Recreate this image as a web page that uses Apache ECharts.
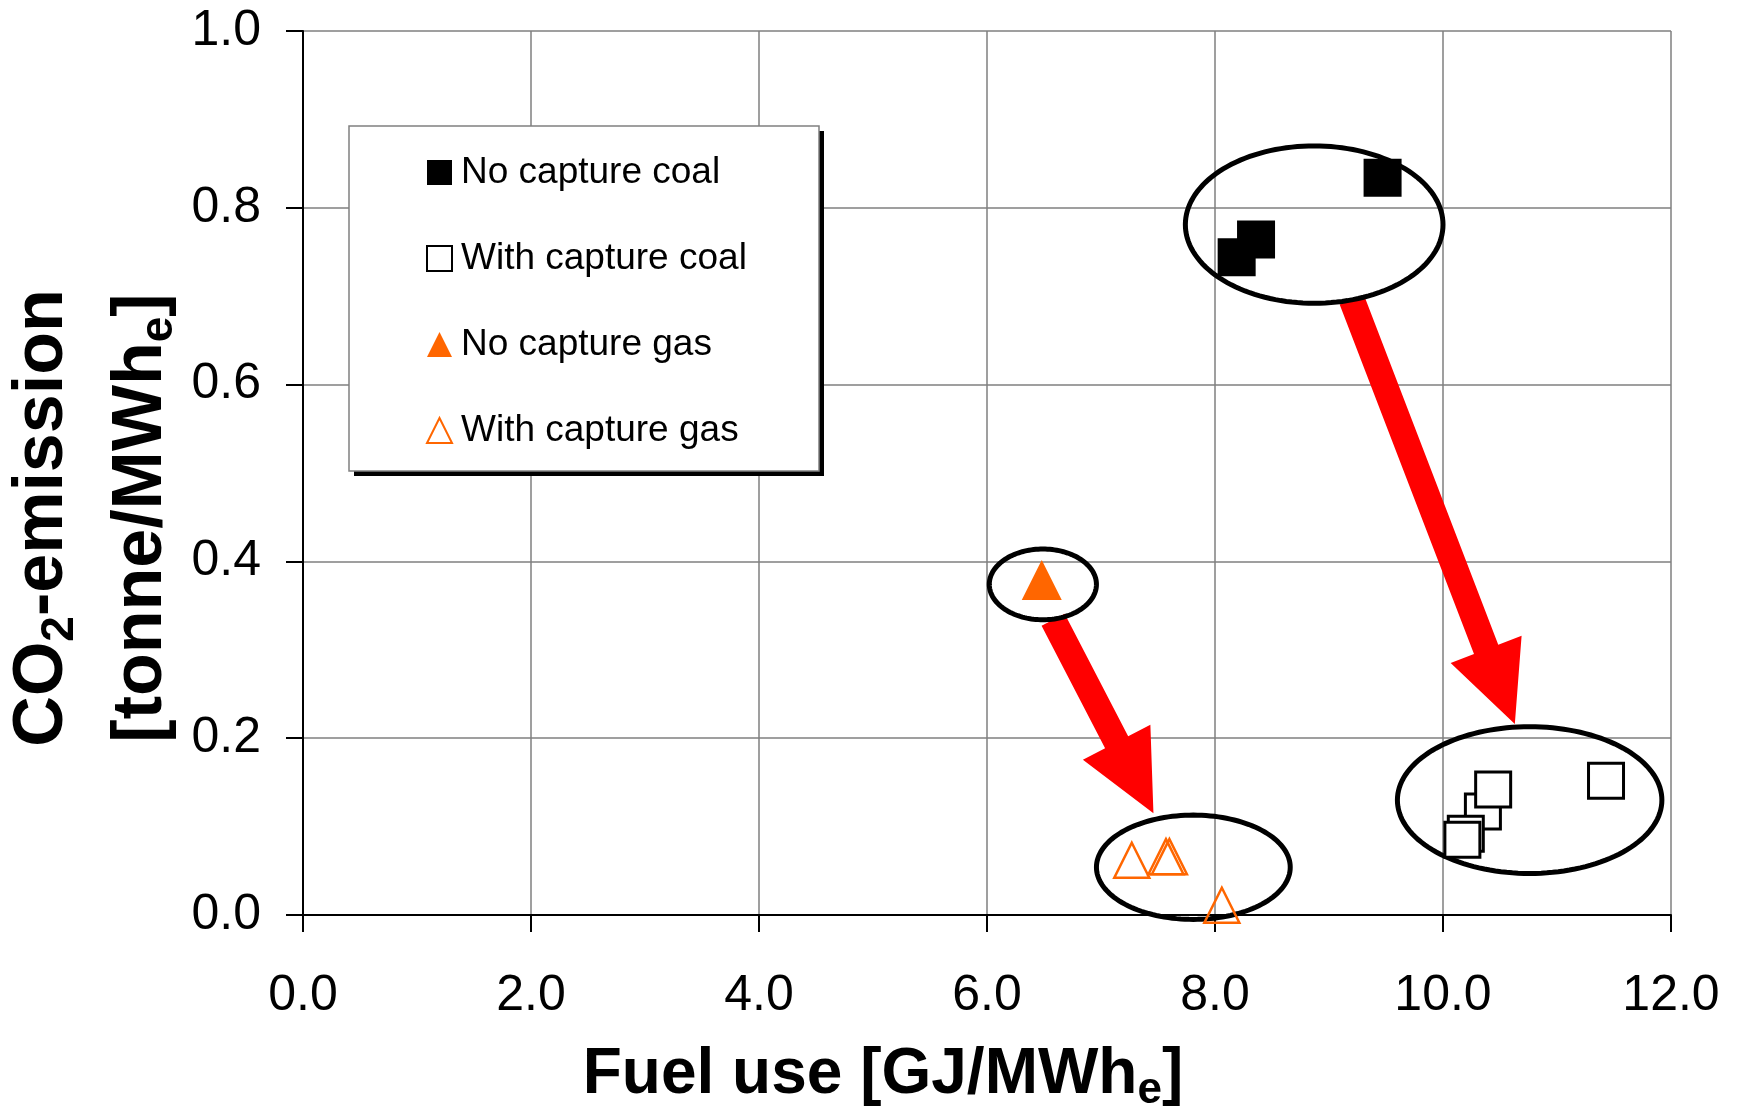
<!DOCTYPE html>
<html>
<head>
<meta charset="utf-8">
<title>CO2 emission vs fuel use</title>
<script src="https://cdn.jsdelivr.net/npm/echarts@6.0.0/dist/echarts.min.js"></script>
<style>
  html, body { margin: 0; padding: 0; background: #ffffff; }
  #chart { width: 1744px; height: 1112px; }
</style>
</head>
<body>
<div id="chart"></div>
<script>
// x = fuel use [GJ/MWh_e], y = CO2 emission [tonne/MWh_e]
const noCaptureCoal = [[8.19, 0.744], [8.36, 0.764], [9.47, 0.834]];
const withCaptureCoal = [[10.35, 0.117], [10.44, 0.142], [10.20, 0.092], [10.17, 0.085], [11.43, 0.152]];
const noCaptureGas = [[6.48, 0.379]];
const withCaptureGas = [[7.27, 0.062], [7.57, 0.066], [7.60, 0.066], [8.06, 0.011]];

// groups circled: centre x, centre y, radius x, radius y (data units)
const groupRings = [
  [8.87, 0.781, 1.13, 0.089],
  [10.76, 0.130, 1.16, 0.083],
  [6.49, 0.374, 0.47, 0.040],
  [7.81, 0.054, 0.85, 0.059]
];
// arrows: from x, from y, to x, to y (data units)
const shiftArrows = [
  [9.20, 0.696, 10.63, 0.216],
  [6.58, 0.334, 7.46, 0.115]
];

const xTicks = { min: 0, max: 12, interval: 2 };
const yTicks = { min: 0, max: 1, interval: 0.2 };

const FONT = "'Liberation Sans', Arial, Helvetica, sans-serif";
const ORANGE = '#ff6600';

const chart = echarts.init(document.getElementById('chart'));

function renderRing(params, api) {
  const c = api.coord([api.value(0), api.value(1)]);
  const r = api.size([api.value(2), api.value(3)]);
  const pts = [];
  for (let i = 0; i < 144; i++) {
    const a = (i / 144) * Math.PI * 2;
    pts.push([c[0] + r[0] * Math.cos(a), c[1] + r[1] * Math.sin(a)]);
  }
  return {
    type: 'polygon',
    shape: { points: pts },
    style: { fill: 'none', stroke: '#000000', lineWidth: 5 }
  };
}

function renderArrow(params, api) {
  const s = api.coord([api.value(0), api.value(1)]);
  const t = api.coord([api.value(2), api.value(3)]);
  const len = Math.hypot(t[0] - s[0], t[1] - s[1]);
  const d = [(t[0] - s[0]) / len, (t[1] - s[1]) / len];
  const p = [-d[1], d[0]];
  const shaft = 13, head = 38, headLen = 80;
  const b = [t[0] - d[0] * headLen, t[1] - d[1] * headLen];
  const pts = [
    [s[0] + p[0] * shaft, s[1] + p[1] * shaft],
    [b[0] + p[0] * shaft, b[1] + p[1] * shaft],
    [b[0] + p[0] * head, b[1] + p[1] * head],
    t,
    [b[0] - p[0] * head, b[1] - p[1] * head],
    [b[0] - p[0] * shaft, b[1] - p[1] * shaft],
    [s[0] - p[0] * shaft, s[1] - p[1] * shaft]
  ];
  return { type: 'polygon', shape: { points: pts }, style: { fill: '#ff0000' } };
}

// rich text styles: main text + lowered subscript
function titleRich(size, subSize, lh) {
  return {
    m: { fontFamily: FONT, fontSize: size, fontWeight: 'bold', lineHeight: lh, fill: '#000000' },
    s: { fontFamily: FONT, fontSize: subSize, fontWeight: 'bold', lineHeight: lh, verticalAlign: 'bottom', fill: '#000000' }
  };
}

// legend frame: white box with a grey edge and a solid black drop shadow
const legendBox = { x: 349, y: 126, width: 470, height: 345 };

const option = {
  backgroundColor: '#ffffff',
  animation: false,
  grid: { left: 303, right: 73, top: 31, bottom: 197 },
  xAxis: {
    type: 'value',
    min: xTicks.min,
    max: xTicks.max,
    interval: xTicks.interval,
    axisLine: { lineStyle: { color: '#000000', width: 2 } },
    axisTick: { show: true, length: 17, lineStyle: { color: '#000000', width: 2 } },
    axisLabel: {
      margin: 56,
      color: '#000000',
      fontFamily: FONT,
      fontSize: 50,
      formatter: v => v.toFixed(1)
    },
    splitLine: { show: true, lineStyle: { color: '#7f7f7f', width: 1.5 } }
  },
  yAxis: {
    type: 'value',
    min: yTicks.min,
    max: yTicks.max,
    interval: yTicks.interval,
    axisLine: { show: true, lineStyle: { color: '#000000', width: 2 } },
    axisTick: { show: true, length: 17, lineStyle: { color: '#000000', width: 2 } },
    axisLabel: {
      margin: 42,
      color: '#000000',
      fontFamily: FONT,
      fontSize: 50,
      formatter: v => v.toFixed(1)
    },
    splitLine: { show: true, lineStyle: { color: '#7f7f7f', width: 1.5 } }
  },
  legend: {
    orient: 'vertical',
    left: legendBox.x,
    top: legendBox.y,
    padding: [28, 70, 23, 77],
    itemWidth: 25,
    itemHeight: 25,
    itemGap: 49,
    backgroundColor: 'transparent',
    borderWidth: 0,
    z: 10,
    textStyle: { color: '#000000', fontFamily: FONT, fontSize: 37, lineHeight: 37, padding: [0, 0, 0, 4] },
    data: ['No capture coal', 'With capture coal', 'No capture gas', 'With capture gas']
  },
  graphic: [
    {
      type: 'rect',
      z: 8,
      shape: { x: legendBox.x + 5, y: legendBox.y + 5, width: legendBox.width, height: legendBox.height },
      style: { fill: '#000000' }
    },
    {
      type: 'rect',
      z: 9,
      shape: legendBox,
      style: { fill: '#ffffff', stroke: '#808080', lineWidth: 1.5 }
    },
    {
      type: 'text',
      x: 883,
      y: 1037,
      style: {
        text: '{m|Fuel use [GJ/MWh}{s|e}{m|]}',
        align: 'center',
        verticalAlign: 'top',
        fill: '#000000',
        rich: titleRich(64, 44, 76)
      }
    },
    {
      type: 'text',
      x: 3,
      y: 518,
      rotation: Math.PI / 2,
      style: {
        text: '{m|CO}{s|2}{m|-emission}',
        align: 'center',
        verticalAlign: 'top',
        fill: '#000000',
        rich: titleRich(70, 46, 80)
      }
    },
    {
      type: 'text',
      x: 102,
      y: 518,
      rotation: Math.PI / 2,
      style: {
        text: '{m|[tonne/MWh}{s|e}{m|]}',
        align: 'center',
        verticalAlign: 'top',
        fill: '#000000',
        rich: titleRich(70, 46, 80)
      }
    }
  ],
  series: [
    {
      name: 'rings',
      type: 'custom',
      renderItem: renderRing,
      data: groupRings,
      encode: { x: 0, y: 1 },
      clip: false,
      silent: true,
      z: 2
    },
    {
      name: 'arrows',
      type: 'custom',
      renderItem: renderArrow,
      data: shiftArrows,
      encode: { x: [0, 2], y: [1, 3] },
      clip: false,
      silent: true,
      z: 1
    },
    {
      name: 'No capture coal',
      type: 'scatter',
      symbol: 'rect',
      symbolSize: 38,
      clip: false,
      z: 5,
      itemStyle: { color: '#000000', opacity: 1 },
      data: noCaptureCoal
    },
    {
      name: 'With capture coal',
      type: 'scatter',
      symbol: 'rect',
      symbolSize: 35,
      clip: false,
      z: 5,
      itemStyle: { color: '#ffffff', borderColor: '#000000', borderWidth: 3, opacity: 1 },
      data: withCaptureCoal
    },
    {
      name: 'No capture gas',
      type: 'scatter',
      symbol: 'triangle',
      symbolSize: 40,
      clip: false,
      z: 5,
      itemStyle: { color: ORANGE, opacity: 1 },
      data: noCaptureGas
    },
    {
      name: 'With capture gas',
      type: 'scatter',
      symbol: 'triangle',
      symbolSize: 35,
      clip: false,
      z: 5,
      itemStyle: { color: 'rgba(255,255,255,0)', borderColor: ORANGE, borderWidth: 2.5, opacity: 1 },
      data: withCaptureGas
    }
  ]
};

chart.setOption(option);
</script>
</body>
</html>
